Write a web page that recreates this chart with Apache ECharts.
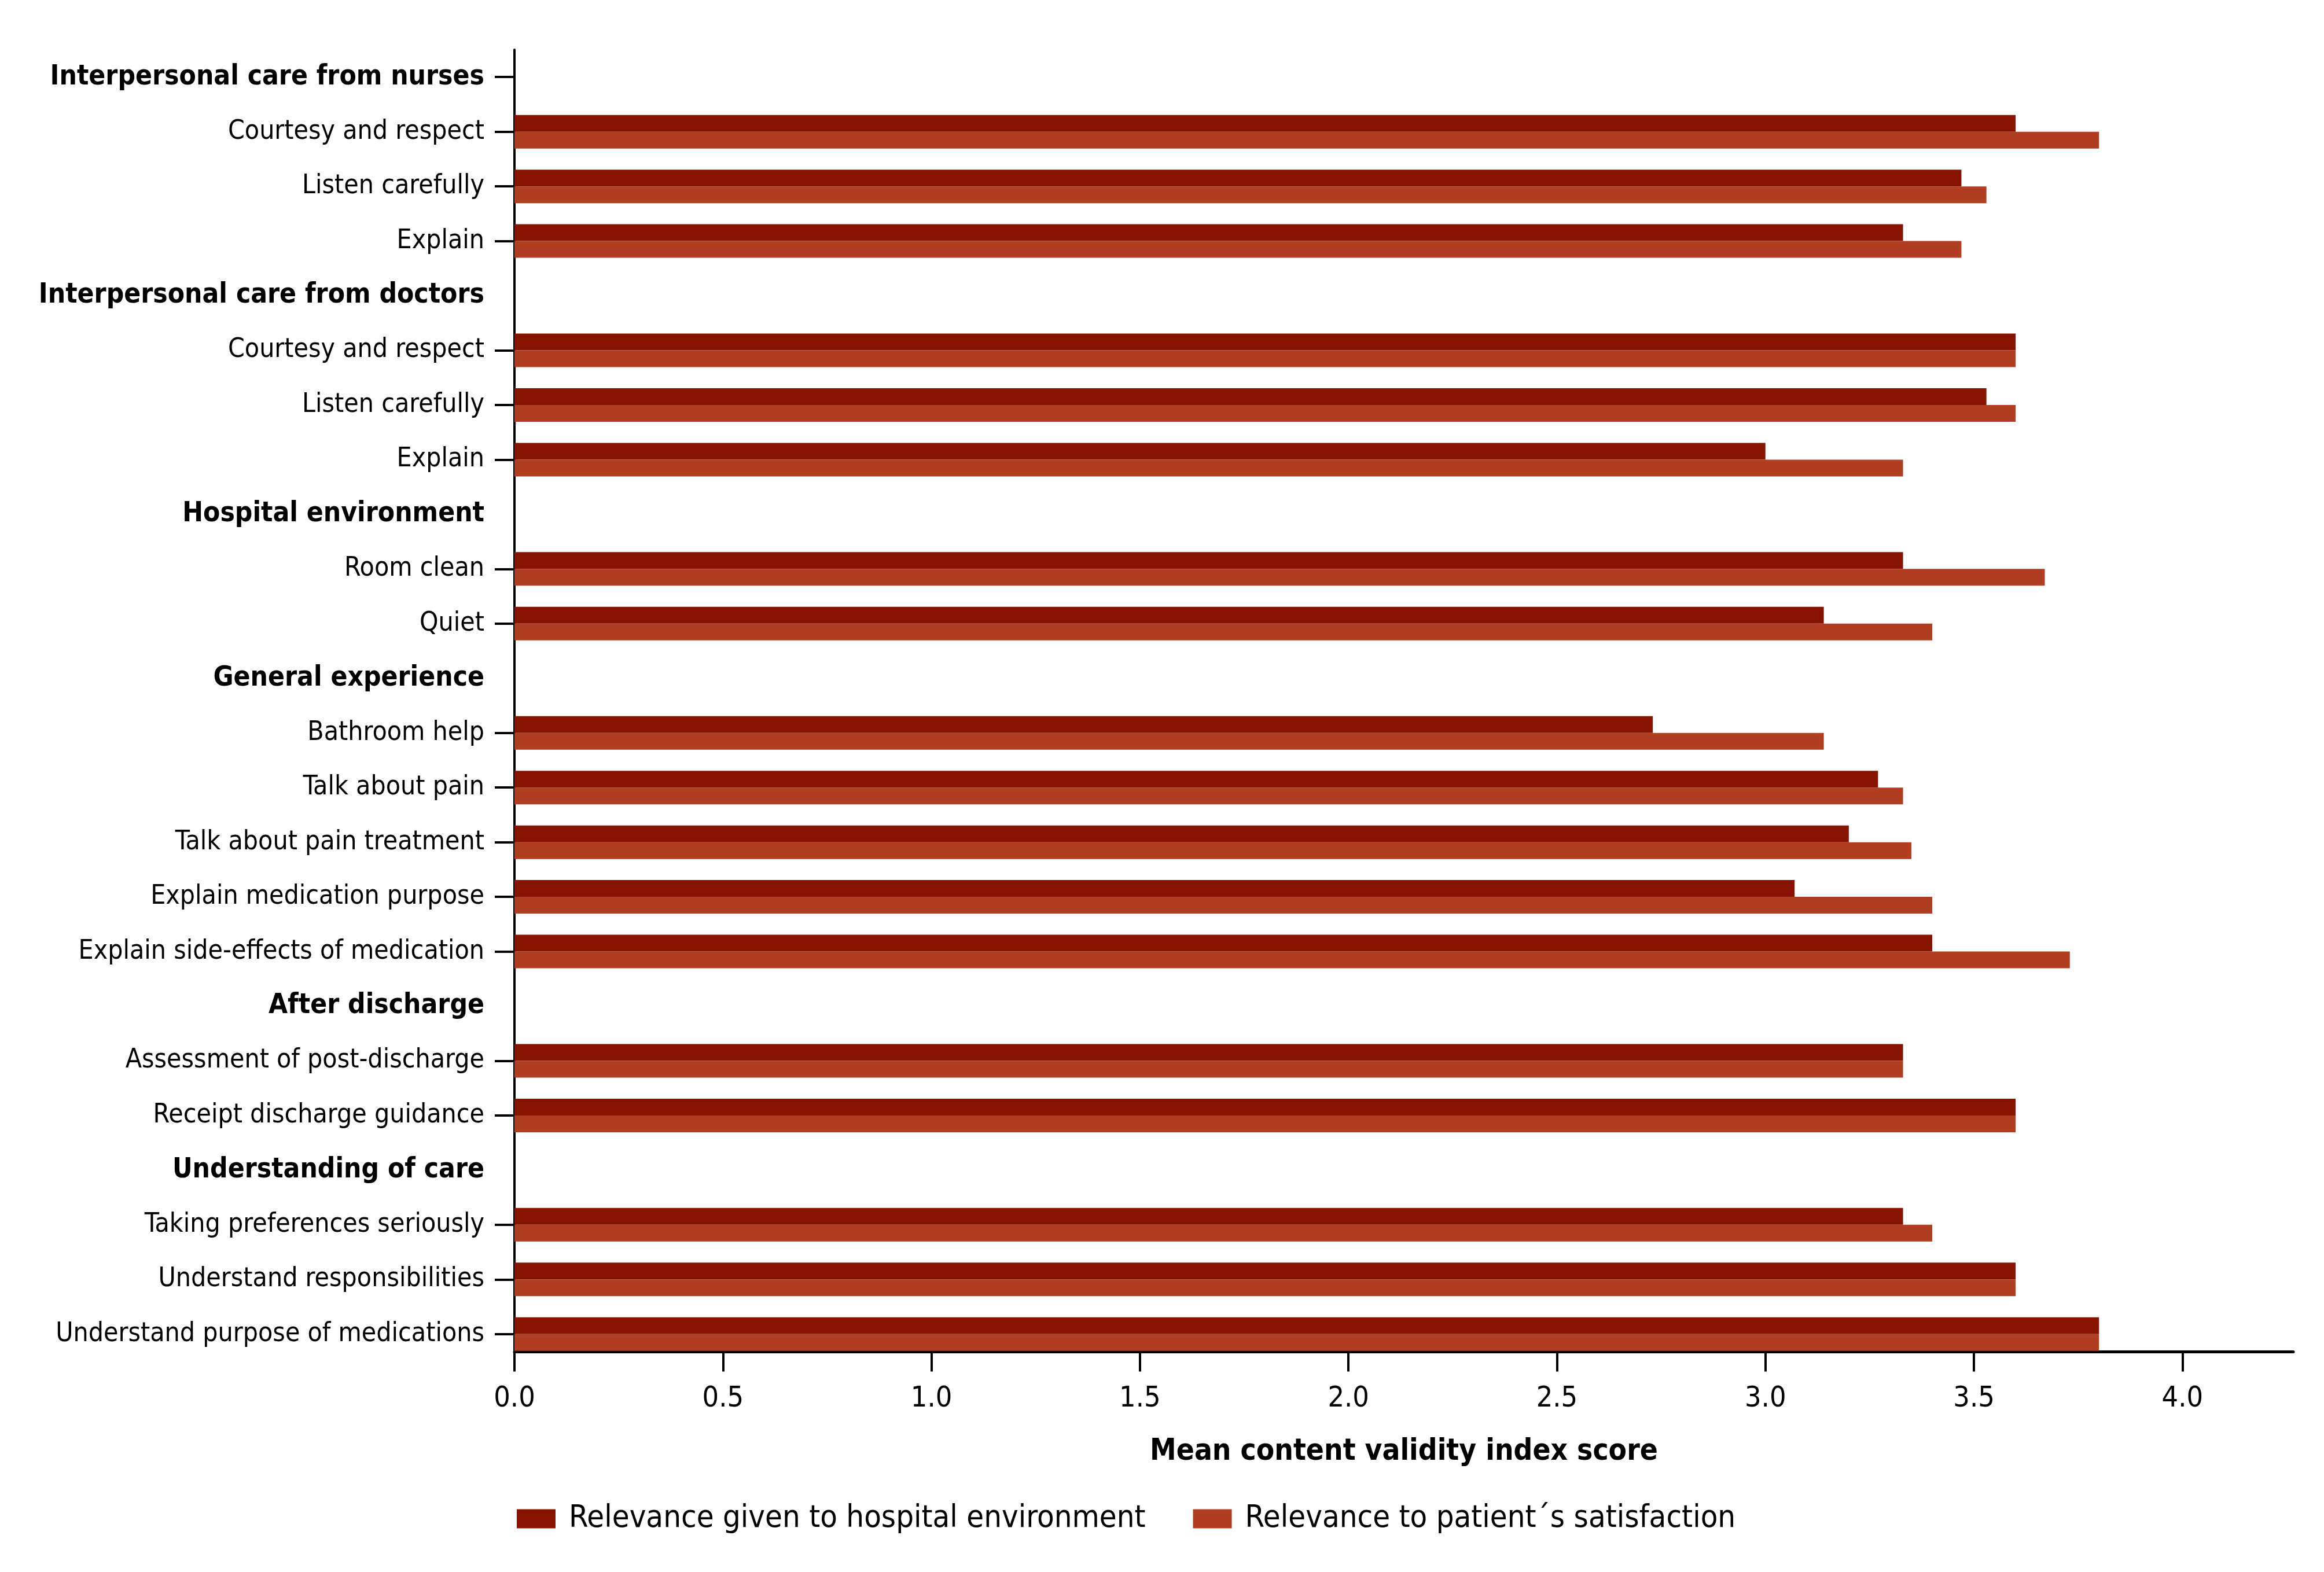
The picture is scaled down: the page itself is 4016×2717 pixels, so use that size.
<!DOCTYPE html>
<html><head><meta charset="utf-8">
<script src="https://cdn.jsdelivr.net/npm/echarts@6/dist/echarts.min.js"></script>
<style>html,body{margin:0;padding:0;background:#fff}#c{width:4016px;height:2717px}</style>
</head><body><div id="c"></div>
<script>
const categories = [
  'Interpersonal care from nurses',
  'Courtesy and respect',
  'Listen carefully',
  'Explain',
  'Interpersonal care from doctors',
  'Courtesy and respect',
  'Listen carefully',
  'Explain',
  'Hospital environment',
  'Room clean',
  'Quiet',
  'General experience',
  'Bathroom help',
  'Talk about pain',
  'Talk about pain treatment',
  'Explain medication purpose',
  'Explain side-effects of medication',
  'After discharge',
  'Assessment of post-discharge',
  'Receipt discharge guidance',
  'Understanding of care',
  'Taking preferences seriously',
  'Understand responsibilities',
  'Understand purpose of medications'
];
const headerRows = [0, 4, 8, 11, 17, 20];
const envValues = [null, 3.6, 3.47, 3.33, null, 3.6, 3.53, 3.0, null, 3.33, 3.14, null, 2.73, 3.27, 3.2, 3.07, 3.4, null, 3.33, 3.6, null, 3.33, 3.6, 3.8];
const satValues = [null, 3.8, 3.53, 3.47, null, 3.6, 3.6, 3.33, null, 3.67, 3.4, null, 3.14, 3.33, 3.35, 3.4, 3.73, null, 3.33, 3.6, null, 3.4, 3.6, 3.8];
const xTicks = [0, 0.5, 1, 1.5, 2, 2.5, 3, 3.5, 4];
const seriesNames = ['Relevance given to hospital environment', 'Relevance to patient\u00b4s satisfaction'];
const colors = ['#861200', '#B03E20'];

const FONT = "'Liberation Sans Narrow', 'DejaVu Sans Condensed', 'Roboto', sans-serif";
const chart = echarts.init(document.getElementById('c'), null, {renderer: 'canvas'});
const option = {
  backgroundColor: '#ffffff',
  animation: false,
  color: colors,
  grid: {left: 889, right: 53, top: 86, height: 2267, containLabel: false, outerBoundsMode: 'none'},
  legend: {
    left: 888, top: 2593,
    icon: 'rect', itemWidth: 67, itemHeight: 33, itemGap: 82,
    textStyle: {fontFamily: FONT, fontSize: 54, color: '#000', padding: [0, 0, 0, 18]},
    data: seriesNames
  },
  xAxis: {
    type: 'value', min: 0, max: 4.266, offset: -16.5,
    name: 'Mean content validity index score',
    nameLocation: 'middle', nameGap: 148,
    nameTextStyle: {fontFamily: FONT, fontSize: 51, fontWeight: 'bold', color: '#000'},
    splitLine: {show: false},
    axisLine: {show: true, lineStyle: {color: '#000', width: 5}},
    axisTick: {show: true, length: 34, lineStyle: {color: '#000', width: 4}, customValues: xTicks},
    axisLabel: {fontFamily: FONT, fontSize: 50, color: '#000', margin: 57, customValues: xTicks,
      formatter: v => Number(v).toFixed(1)}
  },
  yAxis: {
    type: 'category', inverse: true, data: categories,
    axisLine: {show: true, onZero: false, lineStyle: {color: '#000', width: 4}},
    axisTick: {show: true, length: 34, alignWithLabel: true, lineStyle: {color: '#000', width: 4},
      interval: (idx) => idx === 0 || headerRows.indexOf(idx) < 0},
    axisLabel: {
      interval: 0, margin: 52, color: '#000', fontFamily: FONT, fontSize: 46,
      formatter: (v, idx) => headerRows.indexOf(idx) >= 0 ? '{h|' + v + '}' : v,
      rich: {h: {fontFamily: FONT, fontSize: 47.5, fontWeight: 'bold', color: '#000'}}
    },
    splitLine: {show: false}
  },
  series: [
    {name: seriesNames[0], type: 'bar', data: envValues, barWidth: 29, barGap: '0%',
      itemStyle: {color: colors[0]}},
    {name: seriesNames[1], type: 'bar', data: satValues, barWidth: 29, barGap: '0%',
      itemStyle: {color: colors[1]}}
  ]
};
chart.setOption(option);
</script>
</body></html>
